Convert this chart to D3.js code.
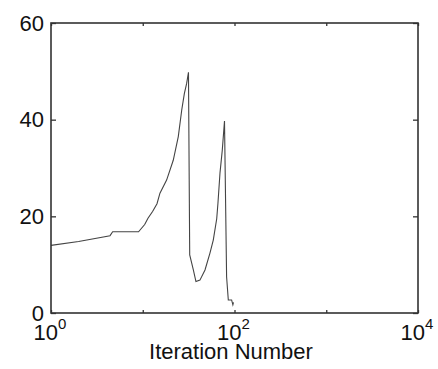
<!DOCTYPE html>
<html>
<head>
<meta charset="utf-8">
<script src="https://cdn.jsdelivr.net/npm/d3@7"></script>
<style>
  body { margin: 0; background: #fff; }
  svg text { font-family: "Liberation Sans", Arial, sans-serif; fill: #111; }
</style>
</head>
<body>
<div id="chart"></div>
<script>
// iteration number vs value
const iterations = [1, 2, 4.4, 4.7, 9, 10.5, 11.4, 12.8, 14.3, 15.4, 18.2, 21.5, 24.4, 26.6, 28.4, 30.1, 31.5,
  32.5, 35.6, 38, 42, 47.7, 54, 58.7, 64, 66, 69.5, 73.6, 77.8, 82, 85.6, 93, 96, 97.5];
const values = [14.0, 14.8, 16.0, 16.8, 16.8, 18.3, 19.6, 21.0, 22.6, 24.8, 27.5, 31.6, 36.5, 42.0, 45.4, 47.5, 49.8,
  12.0, 8.9, 6.5, 6.8, 8.9, 12.4, 15.1, 19.5, 22.7, 29.0, 33.7, 39.7, 7.5, 2.7, 2.7, 1.7, 2.2];

const xTicks = [1, 10, 100, 1000, 10000];
const xTickExp = ["0", "", "2", "", "4"];
const yTicks = [0, 20, 40, 60];

const W = 438, H = 369;
const mLeft = 51, mRight = 418, mTop = 23, mBottom = 313;

const svg = d3.select("#chart").append("svg")
  .attr("width", W).attr("height", H);

const x = d3.scaleLog().domain([1, 10000]).range([mLeft, mRight]);
const y = d3.scaleLinear().domain([0, 60]).range([mBottom, mTop]);

/* line */
const line = d3.line()
  .x((d, i) => x(iterations[i]))
  .y((d) => y(d));

svg.append("path")
  .attr("d", line(values))
  .attr("fill", "none")
  .attr("stroke", "#444")
  .attr("stroke-width", 1.1);

/* axes, ticks inward */
const tickLen = 5;
const fontSize = 22;

const gLeft = svg.append("g")
  .attr("transform", `translate(${mLeft},0)`)
  .call(d3.axisLeft(y).tickValues(yTicks).tickSize(-tickLen).tickSizeOuter(0).tickPadding(7));

const gRight = svg.append("g")
  .attr("transform", `translate(${mRight},0)`)
  .call(d3.axisRight(y).tickValues(yTicks).tickSize(-tickLen).tickSizeOuter(0).tickFormat(""));

const gBottom = svg.append("g")
  .attr("transform", `translate(0,${mBottom})`)
  .call(d3.axisBottom(x).tickValues(xTicks).tickSize(-3).tickSizeOuter(0).tickFormat(""));

const gTop = svg.append("g")
  .attr("transform", `translate(0,${mTop})`)
  .call(d3.axisTop(x).tickValues(xTicks).tickSize(-3).tickSizeOuter(0).tickFormat(""));

[gLeft, gRight, gBottom, gTop].forEach(g => {
  g.select(".domain").remove();
  g.selectAll(".tick line").attr("stroke", "#333").attr("stroke-width", 1.3);
});

gLeft.selectAll(".tick text")
  .attr("font-size", fontSize)
  .attr("fill", "#111");

/* x tick labels 10^n */
const xl = svg.append("g");
xTicks.forEach((t, i) => {
  if (!xTickExp[i]) return;
  const txt = xl.append("text")
    .attr("x", x(t) - 1)
    .attr("y", 340)
    .attr("text-anchor", "middle")
    .attr("font-size", fontSize);
  txt.append("tspan").text("10");
  txt.append("tspan").attr("dy", -11.5).attr("font-size", 15).text(xTickExp[i]);
});

/* frame */
svg.append("rect")
  .attr("x", mLeft).attr("y", mTop)
  .attr("width", mRight - mLeft).attr("height", mBottom - mTop)
  .attr("fill", "none")
  .attr("stroke", "#333")
  .attr("stroke-width", 1.6);

/* axis label */
svg.append("text")
  .attr("x", 231)
  .attr("y", 359)
  .attr("text-anchor", "middle")
  .attr("font-size", fontSize)
  .text("Iteration Number");
</script>
</body>
</html>
